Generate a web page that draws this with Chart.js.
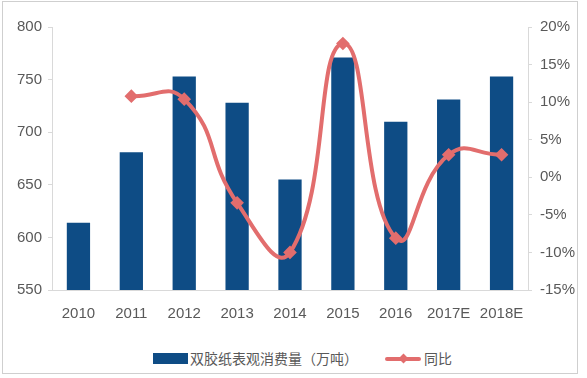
<!DOCTYPE html>
<html lang="zh">
<head>
    <meta charset="UTF-8">
    <title>双胶纸表观消费量</title>
    <script src="https://cdn.jsdelivr.net/npm/chart.js@4.4.1/dist/chart.umd.min.js"></script>
    <style>
        body, html {
            margin: 0;
            padding: 0;
            background: #fff;
        }
        #frame {
            position: absolute;
            left: 2px;
            top: 1px;
            width: 576px;
            height: 373px;
            border: 1px solid #cfcfcf;
            box-sizing: border-box;
        }
        #chartBox {
            position: absolute;
            left: 0;
            top: 0;
            width: 574px;
            height: 335px;
        }
        .legend {
            position: absolute;
            font-family: "Noto Sans CJK SC", sans-serif;
            font-size: 14px;
            color: #595959;
            line-height: 16px;
        }
        .swatch-bar {
            position: absolute;
            width: 35px;
            height: 11px;
            background: #0e4c85;
        }
        .swatch-line {
            position: absolute;
            width: 36px;
            height: 4px;
            background: #e26d6d;
            border-radius: 2px;
        }
        .swatch-dot {
            position: absolute;
            width: 7px;
            height: 7px;
            background: #e26d6d;
            transform: rotate(45deg);
        }
    </style>
</head>
<body>
    <div id="frame">
        <div id="chartBox"><canvas id="paperChart" width="574" height="335"></canvas></div>
        <!-- 图例 -->
        <div class="swatch-bar" style="left:150px; top:351px;"></div>
        <div class="legend" style="left:187px; top:348px;">双胶纸表观消费量（万吨）</div>
        <div class="swatch-line" style="left:382px; top:355px;"></div>
        <div class="swatch-dot" style="left:397px; top:353px;"></div>
        <div class="legend" style="left:421px; top:348px;">同比</div>
    </div>

    <script>
        // 数据
        const years = ['2010', '2011', '2012', '2013', '2014', '2015', '2016', '2017E', '2018E'];
        const consumption = [614, 681, 753, 728, 655, 771, 710, 731, 753];
        const growth = [null, 10.8, 10.4, -3.4, -10.0, 17.8, -8.1, 3.0, 3.0];

        const barColor = '#0e4c85';
        const lineColor = '#e26d6d';
        const axisColor = '#d9d9d9';
        const tickFont = { family: '"Liberation Sans", Arial, sans-serif', size: 15 };
        const tickColor = '#595959';

        const ctx = document.getElementById('paperChart').getContext('2d');

        new Chart(ctx, {
            type: 'bar',
            data: {
                labels: years,
                datasets: [{
                    type: 'line',
                    label: '同比',
                    data: growth,
                    yAxisID: 'y1',
                    borderColor: lineColor,
                    backgroundColor: lineColor,
                    borderWidth: 4,
                    tension: 0.5,
                    pointStyle: 'rectRot',
                    pointRadius: 4,
                    pointBackgroundColor: lineColor,
                    pointBorderColor: lineColor,
                    order: 0
                }, {
                    label: '双胶纸表观消费量（万吨）',
                    data: consumption,
                    yAxisID: 'y',
                    backgroundColor: barColor,
                    categoryPercentage: 1,
                    barPercentage: 0.44,
                    order: 1
                }]
            },
            options: {
                responsive: false,
                animation: false,
                layout: {
                    padding: { top: 25, left: 0, right: 0, bottom: 0 }
                },
                plugins: {
                    legend: { display: false },
                    tooltip: { enabled: false }
                },
                scales: {
                    x: {
                        grid: { display: false, drawTicks: false },
                        border: { display: true, color: axisColor },
                        ticks: { font: tickFont, color: tickColor, padding: 15, maxRotation: 0 },
                        afterFit: function (scale) { scale.height = 47; }
                    },
                    y: {
                        position: 'left',
                        min: 550,
                        max: 800,
                        grid: { drawOnChartArea: false, drawTicks: true, tickLength: 4, color: axisColor },
                        border: { display: true, color: axisColor },
                        ticks: { stepSize: 50, font: tickFont, color: tickColor, padding: 6 },
                        afterFit: function (scale) { scale.width = 49; }
                    },
                    y1: {
                        position: 'right',
                        min: -15,
                        max: 20,
                        grid: { drawOnChartArea: false, drawTicks: true, tickLength: 4, color: axisColor },
                        border: { display: true, color: axisColor },
                        ticks: {
                            stepSize: 5,
                            font: tickFont,
                            color: tickColor,
                            padding: 8,
                            callback: function (value) { return value + '%'; }
                        },
                        afterFit: function (scale) { scale.width = 49; }
                    }
                }
            }
        });
    </script>
</body>
</html>
